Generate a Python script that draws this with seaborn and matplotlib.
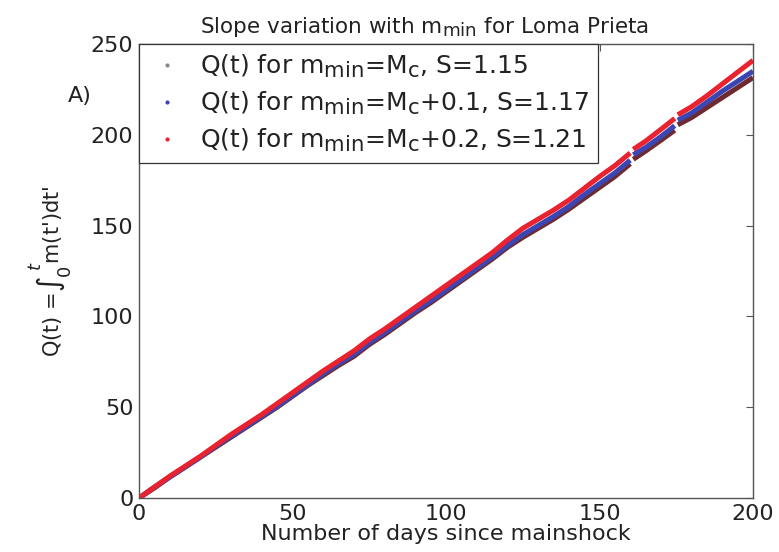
import matplotlib
matplotlib.use("Agg")
import matplotlib.pyplot as plt
from matplotlib.lines import Line2D
import seaborn as sns
import pandas as pd

try:
    import matplotlib._mathtext as _mt
    _mt.SHRINK_FACTOR = 0.85
except Exception:
    pass

# ---- data ----
days = [0, 5, 10, 15, 20, 25, 30, 35, 40, 45, 50, 55, 60, 65, 70, 75, 80, 85, 90,
        95, 100, 105, 110, 115, 120, 125, 130, 135, 140, 145, 150, 155, 160,
        161, 165, 170, 174.5, 175.5, 180, 185, 190, 195, 200]
segment = [0] * 33 + [1] * 4 + [2] * 6

q_mc = [0, 5.5, 11.5, 17, 22.5, 28, 33.5, 39, 44.5, 50, 56, 62, 67.5, 73, 78, 84.5, 90,
        96, 102, 107.5, 113.5, 119.5, 125.5, 131.5, 138, 143.5, 148.5, 153.5, 159, 165,
        171, 177, 184, 186.5, 191, 197, 202.5, 205.5, 209.5, 215, 220.5, 226, 231.5]
q_mc01 = [0, 6, 11.5, 17, 22.5, 28.5, 34, 39.5, 45, 50.5, 56.5, 62.5, 68.5, 74, 79, 85.5,
          91, 97, 103, 108.5, 114.5, 120.5, 126.5, 132.5, 139, 145, 150, 155, 160.5, 167,
          173, 179, 186, 189, 193, 199, 205, 208, 212, 218, 224, 229.5, 235]
q_mc02 = [0, 6, 12, 17.5, 23, 29, 35, 40.5, 46, 52, 58, 64, 70, 75.5, 81, 87.5, 93, 99,
          105, 111, 117, 123, 129, 135, 142, 148.5, 153.5, 158.5, 164, 170.5, 177, 183,
          190, 192, 196.5, 203, 209, 211, 215.5, 221.5, 228, 234.5, 241]

labels = [r"Q(t) for m$_{\rm min}$=M$_{\rm c}$, S=1.15",
          r"Q(t) for m$_{\rm min}$=M$_{\rm c}$+0.1, S=1.17",
          r"Q(t) for m$_{\rm min}$=M$_{\rm c}$+0.2, S=1.21"]
colors = ["#6e2a2e", "#3a46b4", "#e8222e"]
series = [q_mc, q_mc01, q_mc02]

sns.set_style("white")
plt.rcParams["font.family"] = ["DejaVu Sans"]
plt.rcParams["mathtext.fontset"] = "dejavusans"

TXT = "#222222"
fig = plt.figure(figsize=(7.79, 5.52), dpi=100)
ax = fig.add_axes([139 / 779, 1 - 498 / 552, (753 - 139) / 779, (498 - 44) / 552])

for lab, col, q in zip(labels, colors, series):
    df = pd.DataFrame({"t": days, "Q": q, "seg": segment})
    sns.lineplot(data=df, x="t", y="Q", units="seg", estimator=None, ax=ax,
                 color=col, linewidth=3.6, solid_capstyle="butt", legend=False)

ax.set_xlim(0, 200)
ax.set_ylim(0, 250)
ax.set_xticks([0, 50, 100, 150, 200])
ax.set_yticks([0, 50, 100, 150, 200, 250])
ax.tick_params(direction="in", length=5, width=0.8, labelsize=16, top=True, right=True,
               colors="#555555", labelcolor=TXT)
ax.tick_params(axis="x", pad=4)
ax.tick_params(axis="y", pad=4)
for s in ax.spines.values():
    s.set_color("#555555")
    s.set_linewidth(1.0)

ax.set_xlabel("Number of days since mainshock", fontsize=16, color=TXT, labelpad=0)
ax.set_ylabel(r"Q(t) =$\int_0^{\,t}$m(t')dt'", fontsize=15, color=TXT, labelpad=12)
ax.set_title(r"Slope variation with m$_{\rm min}$ for Loma Prieta", fontsize=15.5,
             color=TXT, pad=8, x=(424 - 139) / 614)

fig.text(68 / 779, 1 - 96 / 552, "A)", fontsize=16, color=TXT, ha="left", va="center")

handles = [Line2D([], [], marker=".", linestyle="none", color=c, markersize=4) for c in colors]
handles[0].set_color("#888888")
leg = ax.legend(handles, labels, loc="upper left", bbox_to_anchor=(0, 1), borderaxespad=0,
                fontsize=18, frameon=True, fancybox=False, edgecolor="#333333",
                framealpha=1, handlelength=1.5, handletextpad=0.6, labelspacing=0.4,
                borderpad=0.35)
leg.get_frame().set_linewidth(0.9)
for t in leg.get_texts():
    t.set_color(TXT)

fig.savefig("out.png", dpi=100)
